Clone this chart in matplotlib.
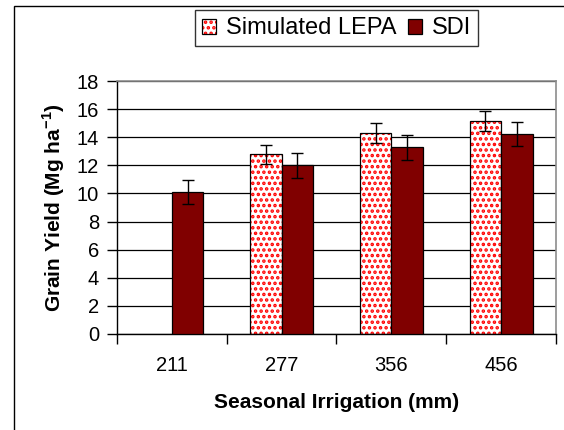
import matplotlib
matplotlib.use("Agg")
import matplotlib.pyplot as plt
from matplotlib.patches import Patch, Rectangle
import numpy as np

# seasonal irrigation categories (mm)
irrigation = ["211", "277", "356", "456"]
# grain yield, Mg/ha (no LEPA value at 211)
lepa = [np.nan, 12.8, 14.3, 15.15]
lepa_err = [np.nan, 0.67, 0.69, 0.73]
sdi = [10.1, 12.0, 13.28, 14.2]
sdi_err = [0.88, 0.9, 0.9, 0.85]

plt.rcParams['font.family'] = ['Liberation Sans', 'DejaVu Sans']
plt.rcParams['mathtext.fontset'] = 'custom'
plt.rcParams['mathtext.rm'] = 'Liberation Sans'
plt.rcParams['mathtext.bf'] = 'Liberation Sans:bold'
plt.rcParams['hatch.linewidth'] = 1.7

fig = plt.figure(figsize=(5.64, 4.30), dpi=100)
ax = fig.add_axes([0.2074, 0.2233, 0.7784, 0.5883])

x = np.arange(len(irrigation))
w = 0.287
red = "#ff0000"
maroon = "#800000"

# dotted LEPA bars: red dot hatch, then black outline on top
ax.bar(x - w, lepa, w, align="edge", color="white", edgecolor=red,
       hatch="...", linewidth=0, zorder=2)
ax.bar(x - w, lepa, w, align="edge", fill=False, edgecolor="black",
       linewidth=0.9, zorder=3)
ax.bar(x, sdi, w, align="edge", color=maroon, edgecolor="black",
       linewidth=0.9, zorder=3)

ax.errorbar(x - w / 2, lepa, yerr=lepa_err, fmt="none", ecolor="black",
            elinewidth=1, capsize=4, capthick=1, zorder=4)
ax.errorbar(x + w / 2, sdi, yerr=sdi_err, fmt="none", ecolor="black",
            elinewidth=1, capsize=4, capthick=1, zorder=4)

ax.set_xlim(-0.5, len(irrigation) - 0.5)
ax.set_ylim(0, 18)
ax.set_yticks(np.arange(0, 19, 2))
ax.set_xticks(np.arange(-0.5, len(irrigation), 1))
ax.set_xticklabels([])
ax.set_xticks(x, minor=True)
ax.set_xticklabels(irrigation, minor=True)
ax.tick_params(axis="x", which="minor", length=0, pad=16, labelsize=14.5)
ax.tick_params(axis="x", which="major", length=7, width=1, direction="out")
ax.tick_params(axis="y", length=7, width=1, direction="out", labelsize=14.5, pad=6)

ax.yaxis.grid(True, color="black", linewidth=0.9, zorder=0)
ax.set_axisbelow(True)
for s in ["top", "right"]:
    ax.spines[s].set_color("#8c8c8c")
    ax.spines[s].set_linewidth(1.2)
for s in ["left", "bottom"]:
    ax.spines[s].set_color("black")
    ax.spines[s].set_linewidth(1)

ax.set_xlabel("Seasonal Irrigation (mm)", fontsize=15, fontweight="bold", labelpad=13)
ax.set_ylabel(r"Grain Yield (Mg ha$^{\mathbf{-1}}$)", fontsize=15,
              fontweight="bold", labelpad=7)

lepa_handle = (Patch(facecolor="white", edgecolor=red, hatch="...", linewidth=0),
               Patch(fill=False, edgecolor="black", linewidth=0.9))
sdi_handle = Patch(facecolor=maroon, edgecolor="black", linewidth=0.9)
leg = fig.legend([lepa_handle, sdi_handle], ["Simulated LEPA", "SDI"],
                 loc="center", bbox_to_anchor=(0.597, 0.934), ncol=2,
                 fontsize=17, frameon=True, fancybox=False, edgecolor="black",
                 handlelength=0.6, handleheight=0.6, handletextpad=0.42,
                 columnspacing=0.47, borderpad=0.3, borderaxespad=0)
leg.get_frame().set_linewidth(1)

# outer chart border (only top and left visible in the crop)
fig.add_artist(Rectangle((13.5 / 564, -0.5), 2, 1.5 - 5.5 / 430, transform=fig.transFigure,
                         fill=False, edgecolor="black", linewidth=1))

fig.savefig("out.png", dpi=100)
